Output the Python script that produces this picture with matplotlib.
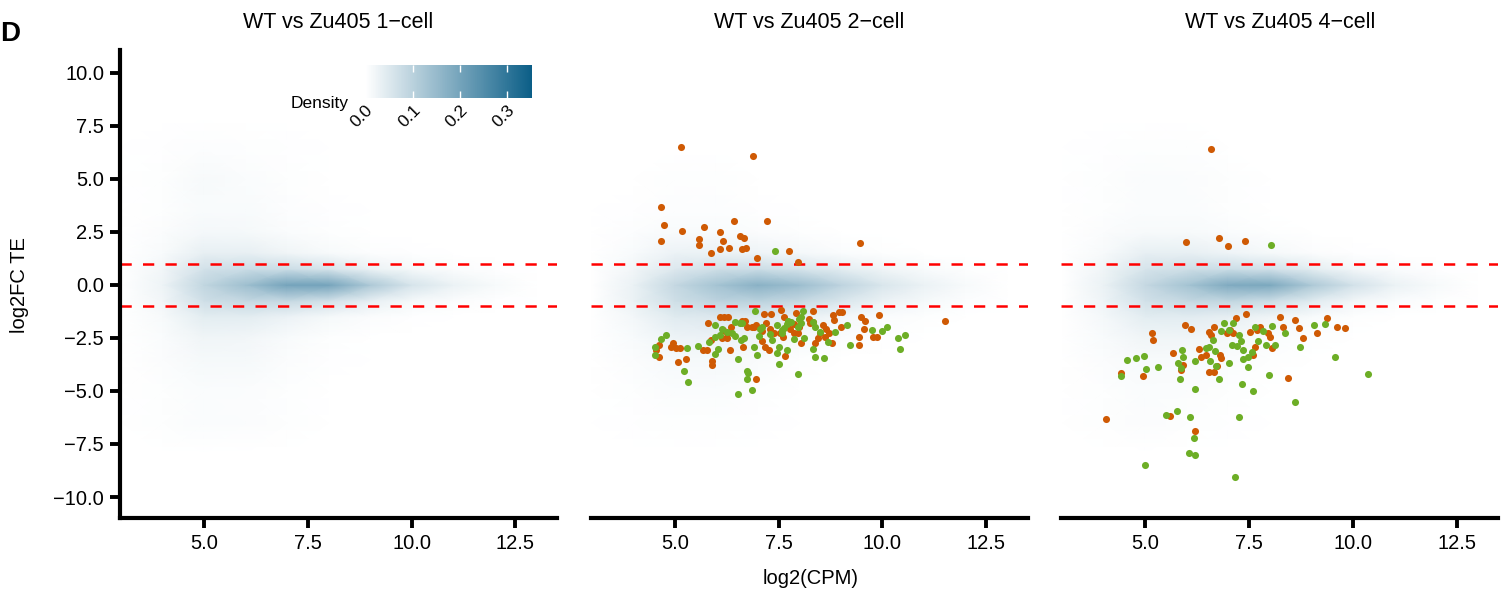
import numpy as np
import matplotlib.pyplot as plt
from matplotlib.colors import LinearSegmentedColormap
from matplotlib.ticker import FuncFormatter

plt.rcParams['font.family'] = ['Liberation Sans', 'DejaVu Sans']

titles = ["WT vs Zu405 1\u2212cell", "WT vs Zu405 2\u2212cell", "WT vs Zu405 4\u2212cell"]

# density grid (log2CPM x log2FC TE), values
grid_x = [3, 4, 5, 6, 7, 8, 9, 10, 11, 12, 13]
grid_y = [-8, -6.5, -5, -3.5, -2.5, -1.5, -0.75, 0, 0.75, 1.5, 2.5, 3.5, 5, 6.5, 8]

dens_1cell = [
    [0, 0, 0, 0, 0, 0, 0, 0, 0, 0, 0],
    [0, .003, .008, .006, .003, 0, 0, 0, 0, 0, 0],
    [0, .004, .008, .006, .003, .001, 0, 0, 0, 0, 0],
    [0, .006, .014, .014, .006, .002, 0, 0, 0, 0, 0],
    [0, .008, .022, .020, .010, .004, .001, 0, 0, 0, 0],
    [0, .012, .040, .040, .028, .014, .006, .002, 0, 0, 0],
    [0, .020, .070, .085, .085, .065, .035, .015, .006, .002, 0],
    [0, .025, .090, .140, .200, .200, .120, .060, .030, .012, 0],
    [0, .020, .065, .075, .075, .060, .030, .015, .006, .002, 0],
    [0, .010, .035, .035, .022, .012, .005, .002, 0, 0, 0],
    [0, .006, .016, .014, .008, .003, .001, 0, 0, 0, 0],
    [0, .004, .010, .010, .005, .002, 0, 0, 0, 0, 0],
    [0, .004, .012, .008, .004, .001, 0, 0, 0, 0, 0],
    [0, .002, .005, .004, .002, 0, 0, 0, 0, 0, 0],
    [0, 0, 0, 0, 0, 0, 0, 0, 0, 0, 0],
]

dens_2cell = [
    [0, 0, 0, 0, 0, 0, 0, 0, 0, 0, 0],
    [0, .002, .004, .004, .002, 0, 0, 0, 0, 0, 0],
    [0, .003, .007, .007, .004, .001, 0, 0, 0, 0, 0],
    [0, .006, .013, .014, .009, .004, .001, 0, 0, 0, 0],
    [0, .010, .025, .028, .022, .013, .006, .002, 0, 0, 0],
    [0, .018, .045, .050, .045, .032, .018, .008, .003, 0, 0],
    [0, .030, .070, .095, .100, .085, .055, .030, .014, .005, 0],
    [0, .030, .085, .130, .170, .145, .095, .055, .030, .012, 0],
    [0, .020, .050, .070, .075, .060, .040, .022, .010, .004, 0],
    [0, .010, .028, .030, .025, .016, .008, .003, .001, 0, 0],
    [0, .005, .010, .010, .006, .003, .001, 0, 0, 0, 0],
    [0, .002, .005, .005, .002, 0, 0, 0, 0, 0, 0],
    [0, .001, .003, .003, .001, 0, 0, 0, 0, 0, 0],
    [0, 0, .001, .001, 0, 0, 0, 0, 0, 0, 0],
    [0, 0, 0, 0, 0, 0, 0, 0, 0, 0, 0],
]

dens_4cell = [
    [0, 0, 0, 0, 0, 0, 0, 0, 0, 0, 0],
    [0, .003, .006, .004, .002, 0, 0, 0, 0, 0, 0],
    [0, .004, .008, .006, .003, .001, 0, 0, 0, 0, 0],
    [0, .006, .012, .012, .007, .003, .001, 0, 0, 0, 0],
    [0, .010, .022, .022, .015, .008, .003, .001, 0, 0, 0],
    [0, .016, .040, .042, .035, .022, .010, .004, .001, 0, 0],
    [0, .025, .065, .085, .090, .075, .045, .020, .008, .003, 0],
    [0, .030, .085, .130, .185, .190, .120, .065, .030, .012, 0],
    [0, .022, .060, .070, .075, .065, .040, .018, .007, .002, 0],
    [0, .012, .035, .035, .025, .014, .006, .002, 0, 0, 0],
    [0, .006, .012, .012, .007, .003, .001, 0, 0, 0, 0],
    [0, .004, .008, .007, .004, .001, 0, 0, 0, 0, 0],
    [0, .004, .008, .006, .003, .001, 0, 0, 0, 0, 0],
    [0, .002, .004, .003, .001, 0, 0, 0, 0, 0, 0],
    [0, 0, 0, 0, 0, 0, 0, 0, 0, 0, 0],
]

# highlighted genes, 2-cell
c2_orange_cpm = [5.15, 6.88, 4.67, 4.75, 4.66, 5.18, 5.70, 5.59, 5.58, 6.09, 6.17, 6.42, 6.57, 6.67,
                 5.88, 6.10, 6.30, 6.62, 6.71, 7.23, 6.98, 7.74, 7.98, 9.47, 11.51,
                 6.08, 6.19, 6.29, 5.79, 6.35, 6.63, 6.69, 6.73, 6.86, 6.96, 7.14, 7.32, 7.20, 7.10,
                 7.30, 7.57, 7.63, 7.92, 8.32, 8.23, 8.34, 8.00, 7.97, 7.78, 7.86, 7.54, 8.57, 8.65,
                 8.50, 8.71, 8.80, 8.96, 9.03, 8.83, 9.00, 9.48, 9.59, 9.56, 9.92, 9.44, 9.77, 9.87,
                 9.44, 8.78, 8.46, 8.37, 8.04, 7.65, 7.10, 7.18, 7.26, 6.33, 6.64, 6.25, 6.13, 6.25,
                 6.17, 5.87, 5.67, 5.77, 5.89, 5.89, 5.28, 5.07, 4.90, 4.97, 5.03, 5.13, 4.61, 4.56,
                 4.62, 6.96, 6.92, 7.60, 7.39, 7.86, 8.26, 8.61]
c2_orange_fc = [6.51, 6.07, 3.68, 2.81, 2.09, 2.56, 2.75, 2.17, 1.89, 2.50, 2.06, 3.02, 2.31, 2.20,
                1.51, 1.71, 1.75, 1.71, 1.75, 3.03, 1.26, 1.60, 1.07, 1.98, -1.71,
                -1.49, -1.53, -1.53, -1.79, -1.97, -1.70, -1.70, -1.97, -1.97, -1.87, -1.37, -1.37,
                -1.79, -2.17, -2.09, -1.16, -1.53, -1.31, -1.24, -1.62, -1.75, -1.97, -2.25, -2.09,
                -2.28, -2.28, -1.87, -2.06, -2.28, -2.28, -1.40, -1.27, -1.27, -1.65, -2.00, -1.53,
                -1.71, -2.06, -1.40, -2.44, -2.44, -2.44, -2.85, -2.72, -2.52, -2.75, -2.72, -3.35,
                -2.63, -2.91, -3.07, -3.07, -2.94, -2.52, -2.52, -2.28, -2.12, -2.59, -3.07, -3.07,
                -3.57, -3.77, -3.47, -3.65, -2.91, -2.75, -2.96, -2.96, -2.81, -3.07, -3.41, -4.42,
                -2.00, -2.44, -2.28, -1.84, -1.81, -2.44]
c2_green_cpm = [7.42, 6.93, 5.96, 6.15, 6.25, 6.38, 6.46, 6.56, 6.62, 6.66, 6.59, 6.09, 5.96, 5.82,
                6.03, 5.98, 5.57, 5.29, 4.78, 4.66, 4.52, 4.53, 5.23, 5.33, 6.53, 6.73, 6.76, 6.73,
                6.53, 6.85, 6.90, 6.98, 7.02, 7.06, 7.30, 7.34, 7.46, 7.58, 7.63, 7.70, 7.79, 8.00,
                8.03, 8.10, 7.98, 7.46, 7.52, 7.71, 7.51, 7.96, 7.88, 8.12, 8.34, 8.38, 8.50, 8.32,
                8.38, 8.60, 8.68, 8.87, 9.14, 9.21, 9.76, 9.98, 10.11, 10.37, 10.55, 10.43,
                6.45, 7.10, 7.73, 8.04, 7.59]
c2_green_fc = [1.62, -1.24, -1.87, -2.08, -2.20, -2.28, -2.41, -1.81, -1.81, -2.52, -2.59, -2.36,
               -2.44, -2.67, -3.03, -3.25, -2.88, -2.99, -2.37, -2.53, -2.91, -3.29, -4.04, -4.59,
               -3.51, -4.04, -4.14, -4.45, -5.14, -4.95, -2.91, -3.32, -2.41, -2.09, -2.31, -2.59,
               -1.87, -2.28, -2.04, -1.84, -1.75, -1.62, -1.78, -1.21, -1.97, -3.22, -2.94, -3.05,
               -3.73, -4.18, -2.56, -2.50, -1.75, -2.00, -2.22, -3.00, -3.40, -3.46, -2.69, -2.23,
               -1.87, -2.85, -2.12, -2.15, -1.97, -2.52, -2.36, -3.02,
               -1.76, -1.97, -1.70, -1.49, -2.12]

# highlighted genes, 4-cell
c4_orange_cpm = [6.58, 5.98, 6.78, 6.98, 7.39, 4.04, 4.41, 4.93, 5.15, 5.17, 5.95, 6.09, 5.67, 5.91,
                 5.86, 5.58, 6.19, 6.28, 6.34, 6.45, 6.53, 6.58, 6.65, 6.80, 6.83, 6.72, 6.54, 6.64,
                 6.96, 7.04, 7.12, 7.18, 7.43, 7.52, 7.68, 7.76, 7.96, 8.00, 7.63, 7.58, 8.04, 8.24,
                 8.32, 8.59, 8.71, 8.79, 8.44, 9.13, 9.37, 9.62, 9.81]
c4_orange_fc = [6.40, 2.03, 2.20, 1.86, 2.09, -6.34, -4.17, -4.29, -2.28, -2.59, -1.90, -2.06,
                -3.19, -3.77, -4.01, -6.18, -6.89, -3.03, -3.41, -3.32, -2.20, -2.36, -1.97, -3.30,
                -3.46, -3.82, -4.09, -4.09, -2.28, -2.12, -2.28, -1.57, -1.37, -2.20, -2.12, -1.97,
                -2.28, -2.44, -2.91, -3.32, -2.99, -1.49, -1.97, -1.64, -2.01, -2.48, -4.39, -2.28,
                -1.56, -1.97, -2.03]
c4_green_cpm = [8.03, 6.89, 7.10, 6.81, 7.02, 7.25, 7.63, 7.84, 8.05, 8.35, 9.07, 9.33, 6.62, 7.31,
                7.70, 7.09, 7.20, 6.46, 6.54, 6.68, 7.36, 7.56, 7.91, 8.13, 8.72, 7.48, 7.34, 7.46,
                7.02, 6.56, 6.69, 6.76, 6.20, 5.88, 5.91, 5.79, 5.85, 5.83, 5.30, 5.02, 4.78, 4.97,
                4.56, 4.40, 6.19, 7.33, 7.60, 7.97, 8.61, 9.57, 10.37, 5.75, 5.50, 6.08, 7.26, 6.17,
                6.06, 6.20, 4.98, 7.16]
c4_green_fc = [1.87, -1.78, -1.81, -2.15, -2.12, -2.36, -1.97, -2.15, -1.93, -2.25, -1.87, -1.86,
               -2.59, -2.63, -2.63, -2.83, -2.88, -2.96, -2.91, -3.13, -3.07, -3.18, -2.81, -2.85,
               -2.94, -3.38, -3.49, -3.88, -3.66, -3.57, -3.82, -4.43, -3.60, -3.07, -3.41, -3.66,
               -3.93, -4.43, -3.85, -3.98, -3.46, -3.36, -3.55, -4.29, -4.92, -4.69, -4.98, -4.26,
               -5.50, -3.38, -4.18, -5.94, -6.13, -6.24, -6.23, -7.20, -7.94, -8.03, -8.47, -9.06]

densities = [dens_1cell, dens_2cell, dens_4cell]
orange_pts = [([], []), (c2_orange_cpm, c2_orange_fc), (c4_orange_cpm, c4_orange_fc)]
green_pts = [([], []), (c2_green_cpm, c2_green_fc), (c4_green_cpm, c4_green_fc)]

cmap = LinearSegmentedColormap.from_list('dens', ['#ffffff', '#0b5e87'])
orange = '#CF5A04'
green = '#6DAE26'

fmt = FuncFormatter(lambda v, pos: f"{v:.1f}".replace('-', '\u2212'))

W, H = 1510, 596
fig = plt.figure(figsize=(W / 100, H / 100), dpi=100)

mesh0 = None
for i in range(3):
    ax = fig.add_axes([(120 + 470.7 * i) / W, 78 / H, 437 / W, 468 / H])
    mesh = ax.pcolormesh(grid_x, grid_y, np.array(densities[i]), shading='gouraud',
                         cmap=cmap, vmin=0, vmax=0.352, zorder=0)
    if i == 0:
        mesh0 = mesh
    for yv in (1, -1):
        ax.axhline(yv, color='red', lw=1.8, dashes=(4.5, 4.5), zorder=2)
    ax.scatter(*orange_pts[i], s=26, color=orange, lw=0, zorder=3)
    ax.scatter(*green_pts[i], s=26, color=green, lw=0, zorder=3)

    ax.set_xlim(2.976, 13.5)
    ax.set_ylim(-10.99, 11.08)
    ax.set_xticks([5, 7.5, 10, 12.5])
    ax.set_yticks([-10, -7.5, -5, -2.5, 0, 2.5, 5, 7.5, 10])
    ax.xaxis.set_major_formatter(fmt)
    ax.yaxis.set_major_formatter(fmt)
    for s in ['top', 'right']:
        ax.spines[s].set_visible(False)
    ax.spines['bottom'].set_linewidth(3)
    ax.spines['left'].set_linewidth(3)
    ax.tick_params(length=7.5, width=2.8, labelsize=14.5, pad=4, colors='black')
    if i > 0:
        ax.spines['left'].set_visible(False)
        ax.tick_params(left=False, labelleft=False)
    ax.set_title(titles[i], fontsize=15.5, pad=16)

fig.text(20 / W, 1 - 285 / H, 'log2FC TE', rotation=90, fontsize=14.5, ha='center', va='center')
fig.text(811 / W, 1 - 578 / H, 'log2(CPM)', fontsize=14.5, ha='center', va='center')
fig.text(0, 1 - 34 / H, 'D', fontsize=20, fontweight='bold', ha='left', va='center')

# colour bar legend
cax = fig.add_axes([365.4 / W, 1 - 98 / H, 166.6 / W, 33 / H])
cb = fig.colorbar(mesh0, cax=cax, orientation='horizontal')
cb.outline.set_visible(False)
cb.set_ticks([0, 0.1, 0.2, 0.3])
cb.set_ticklabels(['0.0', '0.1', '0.2', '0.3'])
cax.tick_params(direction='in', color='white', length=5, width=1, top=True, labelsize=12.5, pad=3)
for lab in cax.get_xticklabels():
    lab.set_rotation(45)
    lab.set_ha('right')
    lab.set_va('top')
    lab.set_rotation_mode('anchor')
fig.text(349 / W, 1 - 108 / H, 'Density', fontsize=12.5, ha='right', va='baseline')

fig.savefig('out.png', dpi=100)
